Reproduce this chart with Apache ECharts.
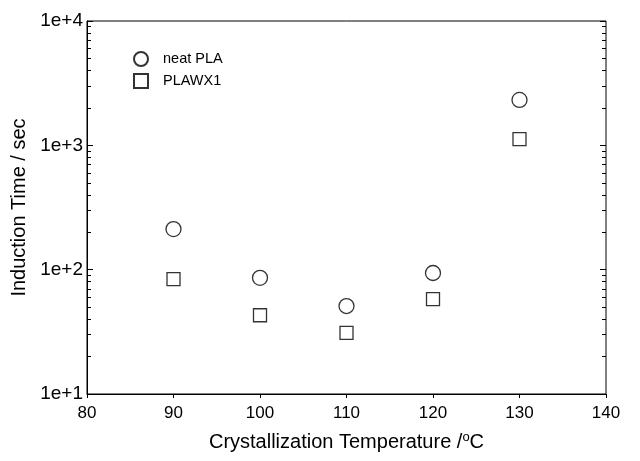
<!DOCTYPE html>
<html>
<head>
<meta charset="utf-8">
<script src="https://cdn.jsdelivr.net/npm/echarts@6/dist/echarts.min.js"></script>
<style>html,body{margin:0;padding:0;background:#fff;}#c{width:640px;height:461px;}</style>
</head>
<body>
<div id="c"></div>
<script>
var temperatures = [90, 100, 110, 120, 130];
var neatPLA = [212, 86, 51, 94, 2320];
var plawx1 = [84, 43, 31, 58, 1120];
var seriesNames = ['neat PLA', 'PLAWX1'];
var xTicks = [80, 90, 100, 110, 120, 130, 140];
var yMajorTicks = [10, 100, 1000, 10000];
var yMinorTicks = [20,30,40,50,60,70,80,90,200,300,400,500,600,700,800,900,2000,3000,4000,5000,6000,7000,8000,9000];

var font = 'Liberation Sans, Arial, Helvetica, sans-serif';
function pairs(ys) { return temperatures.map(function (t, i) { return [t, ys[i]]; }); }
function yAxisBase(extra) {
  var a = {
    type: 'log', logBase: 10, min: 10, max: 10000,
    splitLine: { show: false },
    axisLine: { show: false },
    axisLabel: { show: false },
    axisTick: { show: true, inside: true, length: 6, customValues: yMajorTicks, lineStyle: { color: '#000', width: 1 } }
  };
  for (var k in extra) a[k] = extra[k];
  return a;
}
var chart = echarts.init(document.getElementById('c'), null, { renderer: 'canvas' });
chart.setOption({
  backgroundColor: '#fff',
  animation: false,
  textStyle: { fontFamily: font },
  grid: { left: 87, right: 34, top: 21, bottom: 67, show: true, borderColor: '#000', borderWidth: 1, backgroundColor: 'transparent' },
  legend: {
    data: seriesNames, orient: 'vertical', left: 128, top: 46,
    itemWidth: 14, itemHeight: 14, itemGap: 6,
    textStyle: { fontFamily: font, fontSize: 14.5, color: '#000', padding: [0, 0, 0, 10] }
  },
  xAxis: {
    type: 'value', min: 80, max: 140, interval: 10,
    splitLine: { show: false },
    axisLine: { show: true, lineStyle: { color: '#000', width: 1 } },
    axisTick: { show: true, inside: false, length: 4, lineStyle: { color: '#000' } },
    axisLabel: { color: '#000', fontSize: 17, fontFamily: font, margin: 11, customValues: xTicks },
    name: '{a|Crystallization Temperature /}{s|o}{a|C}',
    nameLocation: 'middle', nameGap: 37,
    nameTextStyle: { rich: { a: { fontSize: 20, fontFamily: font, color: '#000', lineHeight: 22 }, s: { fontSize: 13, fontFamily: font, color: '#000', verticalAlign: 'top', lineHeight: 22, padding: [0, 0, 4, 0] } } }
  },
  yAxis: [
    yAxisBase({
      position: 'left',
      axisLine: { show: true, lineStyle: { color: '#000', width: 1 } },
      axisLabel: { show: true, color: '#000', fontSize: 19, fontFamily: font, margin: 4,
        formatter: function (v) { return '1e+' + Math.round(Math.log10(v)); } },
      name: 'Induction Time / sec', nameLocation: 'middle', nameGap: 55,
      nameTextStyle: { color: '#000', fontSize: 20, fontFamily: font }
    }),
    yAxisBase({ position: 'left', axisTick: { show: true, inside: true, length: 4, customValues: yMinorTicks, lineStyle: { color: '#000', width: 1 } } }),
    yAxisBase({ position: 'right' }),
    yAxisBase({ position: 'right', axisTick: { show: true, inside: true, length: 4, customValues: yMinorTicks, lineStyle: { color: '#000', width: 1 } } })
  ],
  series: [
    { name: seriesNames[0], type: 'scatter', yAxisIndex: 0, symbol: 'circle', symbolSize: 15, data: pairs(neatPLA),
      itemStyle: { color: '#fff', borderColor: '#000', borderWidth: 1.3 } },
    { name: seriesNames[1], type: 'scatter', yAxisIndex: 0, symbol: 'rect', symbolSize: 13, data: pairs(plawx1),
      itemStyle: { color: '#fff', borderColor: '#000', borderWidth: 1.3 } }
  ]
});
</script>
</body>
</html>
